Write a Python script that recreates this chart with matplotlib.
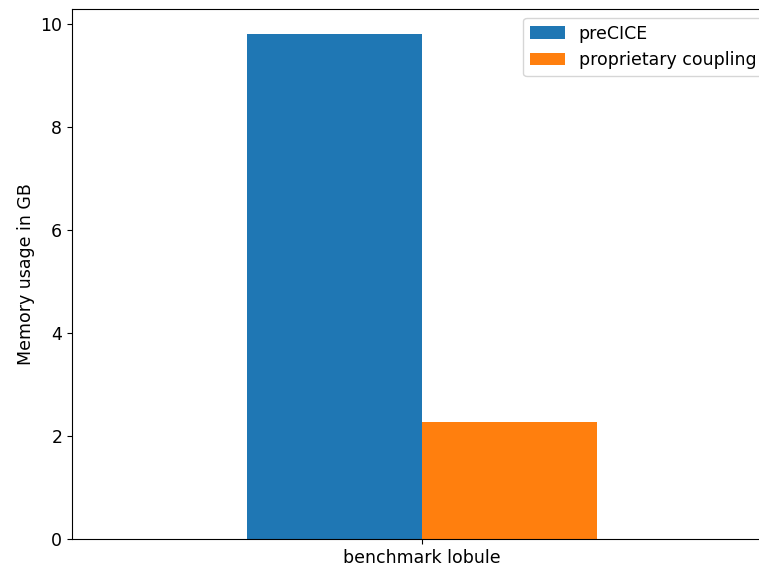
import numpy as np
import matplotlib
matplotlib.use("Agg")
import matplotlib.pyplot as plt

categories = ["benchmark lobule"]
series_names = ["preCICE", "proprietary coupling"]
precice = [9.8]
proprietary = [2.27]

plt.rcParams["font.size"] = 12.5

fig = plt.figure(figsize=(7.59, 5.66), dpi=100)
# axes runs a bit past the right edge, as in the reference crop
ax = fig.add_axes([72 / 759, 27 / 566, 700 / 759, 530 / 566])

x = np.arange(len(categories))
w = 0.25
ax.bar(x - w / 2, precice, w, label=series_names[0], color="#1f77b4")
ax.bar(x + w / 2, proprietary, w, label=series_names[1], color="#ff7f0e")
ax.set_xticks(x)
ax.set_xticklabels(categories)
ax.set_xlim(-0.5, 0.5)
ax.set_ylabel("Memory usage in GB")
ax.legend(loc="upper right")

fig.savefig("out.png", dpi=100)
